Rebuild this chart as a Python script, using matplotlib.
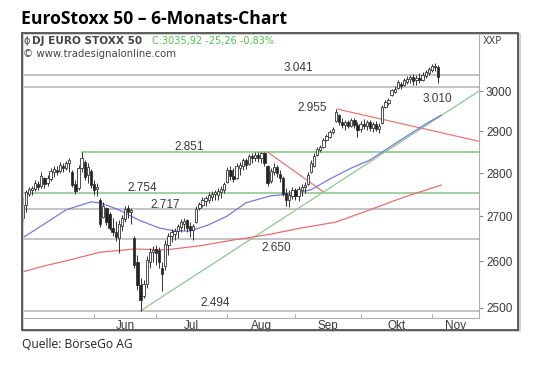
import matplotlib
matplotlib.use("Agg")
import matplotlib.pyplot as plt
from matplotlib.patches import Rectangle

plt.rcParams["font.family"] = ["Liberation Sans", "DejaVu Sans"]

# -------------------------------
# Daily bars (trading-day index 0 = start of May)
# -------------------------------
opens = [2696, 2726, 2751, 2761, 2763, 2775, 2770, 2789, 2777, 2786,
         2803, 2807, 2805, 2817, 2812, 2824, 2803, 2775, 2765, 2812,
         2826, 2796, 2805, 2775, 2763, 2738, 2699, 2719, 2706, 2674,
         2665, 2652, 2678, 2694, 2719, 2710, 2652, 2599, 2549, 2525,
         2551, 2599, 2620, 2627, 2625, 2586, 2590, 2636, 2656, 2660,
         2667, 2676, 2683, 2692, 2678, 2669, 2687, 2719, 2726, 2735,
         2738, 2744, 2751, 2749, 2756, 2761, 2779, 2807, 2793, 2789,
         2812, 2817, 2831, 2822, 2841, 2836, 2843, 2836, 2848, 2817,
         2782, 2803, 2814, 2798, 2789, 2754, 2738, 2747, 2761, 2747,
         2761, 2768, 2775, 2803, 2817, 2843, 2855, 2862, 2879, 2886,
         2898, 2925, 2940, 2923, 2916, 2923, 2913, 2928, 2916, 2906,
         2918, 2913, 2923, 2908, 2918, 2906, 2920, 2960, 2970, 2990,
         2998, 3008, 3018, 3015, 3023, 3030, 3036, 3028, 3033, 3028,
         3038, 3046, 3053, 3064, 3061]
highs = [2744, 2761, 2768, 2770, 2784, 2782, 2803, 2791, 2796, 2812,
         2817, 2817, 2826, 2824, 2829, 2836, 2807, 2784, 2819, 2851,
         2831, 2824, 2810, 2784, 2777, 2742, 2733, 2722, 2710, 2696,
         2690, 2692, 2703, 2724, 2726, 2719, 2656, 2614, 2564, 2560,
         2612, 2629, 2634, 2636, 2632, 2599, 2647, 2663, 2672, 2674,
         2683, 2694, 2696, 2695, 2687, 2683, 2724, 2733, 2744, 2747,
         2756, 2758, 2761, 2765, 2770, 2779, 2814, 2817, 2812, 2824,
         2826, 2836, 2836, 2845, 2848, 2850, 2850, 2851, 2851, 2819,
         2812, 2824, 2819, 2807, 2793, 2765, 2761, 2768, 2765, 2770,
         2775, 2779, 2803, 2831, 2848, 2862, 2867, 2884, 2894, 2903,
         2911, 2955, 2942, 2933, 2928, 2928, 2933, 2933, 2923, 2925,
         2930, 2928, 2928, 2923, 2925, 2920, 2965, 2977, 2982, 3005,
         3013, 3028, 3023, 3033, 3038, 3041, 3043, 3041, 3046, 3048,
         3053, 3061, 3069, 3072, 3066]
lows = [2687, 2710, 2747, 2749, 2758, 2761, 2765, 2765, 2770, 2782,
        2791, 2796, 2800, 2803, 2807, 2803, 2768, 2751, 2761, 2803,
        2784, 2777, 2765, 2749, 2747, 2676, 2696, 2681, 2669, 2656,
        2645, 2618, 2667, 2687, 2696, 2683, 2586, 2538, 2494, 2521,
        2542, 2586, 2599, 2592, 2586, 2536, 2581, 2614, 2643, 2647,
        2652, 2665, 2669, 2665, 2654, 2647, 2685, 2715, 2722, 2724,
        2731, 2735, 2738, 2738, 2742, 2754, 2777, 2784, 2779, 2786,
        2796, 2807, 2810, 2820, 2824, 2829, 2826, 2824, 2817, 2770,
        2778, 2796, 2791, 2779, 2747, 2724, 2722, 2740, 2738, 2735,
        2747, 2754, 2772, 2800, 2814, 2840, 2850, 2860, 2877, 2884,
        2894, 2923, 2916, 2908, 2903, 2908, 2911, 2908, 2886, 2898,
        2906, 2903, 2901, 2898, 2901, 2896, 2918, 2958, 2965, 2988,
        2995, 3005, 3005, 3013, 3018, 3020, 3015, 3015, 3020, 3025,
        3033, 3041, 3048, 3051, 3020]
closes = [2726, 2756, 2763, 2765, 2777, 2768, 2793, 2775, 2789, 2805,
          2810, 2803, 2819, 2812, 2824, 2831, 2772, 2758, 2812, 2836,
          2791, 2815, 2772, 2761, 2768, 2683, 2724, 2687, 2674, 2665,
          2654, 2683, 2696, 2717, 2710, 2715, 2592, 2549, 2517, 2551,
          2603, 2620, 2625, 2618, 2599, 2573, 2638, 2656, 2665, 2667,
          2678, 2687, 2690, 2674, 2669, 2678, 2717, 2728, 2738, 2742,
          2749, 2751, 2756, 2758, 2763, 2775, 2807, 2793, 2786, 2817,
          2819, 2831, 2819, 2841, 2836, 2843, 2836, 2848, 2824, 2777,
          2805, 2814, 2800, 2789, 2751, 2738, 2749, 2761, 2747, 2763,
          2768, 2772, 2796, 2824, 2841, 2857, 2862, 2879, 2889, 2898,
          2906, 2948, 2923, 2916, 2923, 2913, 2928, 2916, 2903, 2918,
          2913, 2923, 2908, 2918, 2906, 2913, 2960, 2972, 2977, 3003,
          3005, 3023, 3013, 3028, 3030, 3036, 3025, 3033, 3028, 3041,
          3048, 3056, 3064, 3061, 3035.92]

# moving averages (bar index, value)
ma_blue_idx = [0, 7, 14, 22, 25, 31, 38, 44, 49, 54, 60, 66, 72, 80, 86, 93,
               99, 106, 112, 118, 125, 130, 135]
ma_blue = [2652, 2683, 2715, 2733, 2731, 2715, 2690, 2674, 2667, 2667, 2681,
           2701, 2731, 2747, 2751, 2761, 2786, 2812, 2831, 2860, 2894, 2918, 2940]
ma_red_idx = [0, 7, 14, 25, 36, 46, 57, 68, 80, 90, 101, 112, 123, 135]
ma_red = [2577, 2590, 2601, 2620, 2627, 2625, 2634, 2647, 2660, 2674, 2687,
          2715, 2744, 2772]

# support / resistance levels
gray_levels = [3041, 3010, 2717, 2650, 2494]
green_levels = [2754]
level_labels = ["3.041", "3.010", "2.955", "2.851", "2.754", "2.717", "2.650", "2.494"]

month_ticks = [23, 43, 66, 88, 109, 132]
month_labels = ["Jun", "Jul", "Aug", "Sep", "Okt", "Nov"]
month_label_pos = [33, 54.5, 77, 98.5, 120.5, 139.5]
price_ticks = [2500, 2600, 2700, 2800, 2900, 3000]

W, H = 540, 390
fig = plt.figure(figsize=(W / 100, H / 100), dpi=100)
ax = fig.add_axes([22 / W, 1 - 318 / H, (479 - 22) / W, (318 - 33) / H])
ax.set_yscale("log")
ax.set_xlim(-0.23, 147.2)
ax.set_ylim(2479, 3150)

# horizontal levels
for lv in gray_levels:
    ax.axhline(lv, color="#c4c4c4", lw=1.4, zorder=1)
ax.axhline(green_levels[0], color="#9fcf9f", lw=1.4, zorder=1)
ax.plot([19, 147.2], [2851, 2851], color="#9fcf9f", lw=1.4, zorder=1)

# trend lines
ax.plot([38, 147.2], [2494, 3000], color="#8cc88c", lw=0.9, zorder=2)
ax.plot([101.4, 147.2], [2955, 2876], color="#e87878", lw=0.9, zorder=2)
ax.plot([78.8, 96.9], [2851, 2757], color="#e87878", lw=0.9, zorder=2)

# moving averages
ax.plot(ma_blue_idx, ma_blue, color="#7878e0", lw=0.9, zorder=2)
ax.plot(ma_red_idx, ma_red, color="#e86e6e", lw=0.9, zorder=2)

# candles
for i, (o, h, l, c) in enumerate(zip(opens, highs, lows, closes)):
    ax.vlines(i, l, h, color="#333333", lw=0.7, zorder=3)
    face = "white" if c >= o else "#222222"
    ax.bar(i, max(abs(c - o), 1), bottom=min(o, c), width=0.75,
           color=face, edgecolor="#333333", linewidth=0.6, zorder=4)

# level labels
txt = dict(fontsize=8.5, color="#3a3a3a", ha="center", va="center", zorder=5)
def px(x, y):
    return x / W, 1 - y / H
label_px = [(298, 68), (437, 99), (312, 108), (189, 147), (142, 188),
            (165, 205), (276, 248), (215, 303)]
for lab, (x, y) in zip(level_labels, label_px):
    fig.text(*px(x, y), lab, **txt)

# axes styling
for s in ["left", "top"]:
    ax.spines[s].set_visible(False)
ax.spines["right"].set_color("#b0b0b0")
ax.spines["bottom"].set_color("#b0b0b0")
ax.yaxis.tick_right()
ax.set_yticks(price_ticks)
ax.set_yticklabels([str(p) for p in price_ticks])
ax.yaxis.set_minor_locator(matplotlib.ticker.NullLocator())
ax.tick_params(axis="y", which="major", length=3, color="#888888",
               labelsize=8.5, labelcolor="#3a3a3a", pad=2)
ax.set_xticks(month_ticks, minor=True)
ax.set_xticks(month_label_pos)
ax.set_xticklabels(month_labels)
ax.tick_params(axis="x", which="major", length=0, labelsize=8.5,
               labelcolor="#3a3a3a", pad=1.5)
ax.tick_params(axis="x", which="minor", length=3, direction="in", color="#999999")
ax.set_facecolor("white")

# header inside chart
hdr = ["DejaVu Sans"]
fig.text(*px(24, 41), "ϕ", fontsize=7, color="#444", va="center", family=hdr)
fig.text(*px(32, 41), "DJ EURO STOXX 50", fontsize=7.6, color="#444",
         va="center", fontweight="bold", family=hdr)
fig.text(*px(152, 41), "C:3035,92 -25,26 -0,83%", fontsize=7.0,
         color="#4cc44c", va="center", family=hdr)
fig.text(*px(23, 54), "© www.tradesignalonline.com", fontsize=7.3,
         color="#444", va="center", family=hdr)
fig.text(*px(483, 41), "XXP", fontsize=7.0, color="#444", va="center", family=hdr)

# outer frame
fig.patches.append(Rectangle((23 / W, 1 - 331 / H), (519 - 22) / W, (331 - 34) / H,
                             transform=fig.transFigure, fill=False,
                             edgecolor="#c8c8c8", lw=1.2))
fig.patches.append(Rectangle((22 / W, 1 - 330 / H), (518 - 22) / W, (330 - 33) / H,
                             transform=fig.transFigure, fill=False,
                             edgecolor="#505050", lw=1.3))

fig.text(*px(21, 19), "EuroStoxx 50 \u2013 6-Monats-Chart", fontsize=12.6,
         fontweight="bold", family=["Open Sans", "DejaVu Sans"], va="center")
fig.text(*px(22, 345), "Quelle: BörseGo AG", fontsize=8.7,
         family=["Open Sans", "DejaVu Sans"], va="center", color="#222")

fig.savefig("out.png", dpi=100)
